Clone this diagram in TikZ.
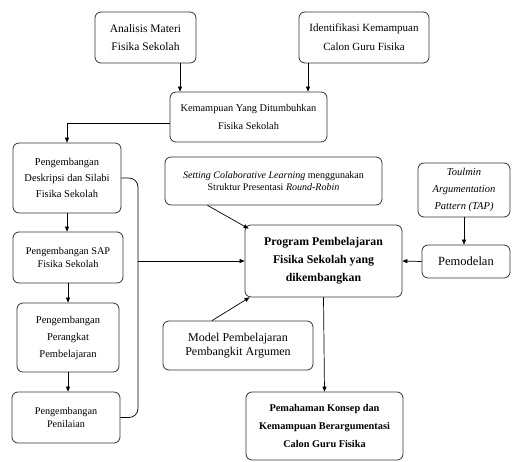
\documentclass[tikz,border=0pt]{standalone}
\usepackage{fontspec}
\setmainfont{Liberation Serif}
\usetikzlibrary{arrows.meta}
\tikzset{
  box/.style={draw=black!80,line width=0.8pt,rounded corners=6pt,fill=white,align=center,inner sep=1pt,text=black},
  arr/.style={draw=black,line width=0.7pt,-{Triangle[length=5pt,width=4pt]}},
  link/.style={draw=black,line width=0.7pt}
}
\begin{document}
\begin{tikzpicture}[x=1pt,y=-1pt]
\path[use as bounding box] (0,0) rectangle (513,461);
% top row
\node[box,minimum width=101pt,minimum height=51pt,font=\fontsize{11.5}{18}\selectfont] (analisis) at (145.5,37.5) {Analisis Materi\\Fisika Sekolah};
\node[box,minimum width=130pt,minimum height=51pt,font=\fontsize{11}{19}\selectfont] (identifikasi) at (364,37.5) {Identifikasi Kemampuan\\Calon Guru Fisika};
\node[box,minimum width=157pt,minimum height=50pt,font=\fontsize{10.3}{18}\selectfont] (kemampuan) at (248.5,117) {Kemampuan Yang Ditumbuhkan\\Fisika Sekolah};
% left column
\node[box,minimum width=108pt,minimum height=70pt,font=\fontsize{10.5}{16}\selectfont] (desk) at (67,178) {Pengembangan\\Deskripsi dan Silabi\\Fisika Sekolah};
\node[box,minimum width=110pt,minimum height=51pt,font=\fontsize{10.3}{13}\selectfont] (sap) at (68,257.5) {Pengembangan SAP\\Fisika Sekolah};
\node[box,minimum width=102pt,minimum height=69pt,font=\fontsize{10.5}{17}\selectfont] (perangkat) at (68,337.5) {Pengembangan\\Perangkat\\Pembelajaran};
\node[box,minimum width=108pt,minimum height=51pt,font=\fontsize{10.2}{13}\selectfont] (penilaian) at (66,417.5) {Pengembangan\\Penilaian};
% centre and right
\node[box,minimum width=217pt,minimum height=48pt,font=\fontsize{10}{12.5}\selectfont] (setting) at (273.5,181) {\textit{Setting Colaborative Learning} menggunakan\\Struktur Presentasi \textit{Round-Robin}};
\node[box,minimum width=92pt,minimum height=54pt,font=\itshape\fontsize{10.5}{17}\selectfont] (toulmin) at (464,190) {Toulmin\\Argumentation\\Pattern (TAP)};
\node[box,minimum width=88pt,minimum height=33pt,font=\fontsize{12.5}{15}\selectfont] (pemodelan) at (466,261.5) {Pemodelan};
\node[box,minimum width=157pt,minimum height=72pt,font=\bfseries\fontsize{11.8}{18}\selectfont] (program) at (323.5,261) {Program Pembelajaran\\Fisika Sekolah yang\\dikembangkan};
\node[box,minimum width=150pt,minimum height=49pt,font=\fontsize{12}{13.5}\selectfont] (model) at (238,345.5) {Model Pembelajaran\\Pembangkit Argumen};
\node[box,minimum width=157pt,minimum height=68pt,font=\bfseries\fontsize{10.3}{18}\selectfont] (hasil) at (324.5,426) {Pemahaman Konsep dan\\Kemampuan Berargumentasi\\Calon Guru Fisika};
% connectors
\coordinate (brk) at (138,261);
\draw[arr] ([xshift=34.5pt]analisis.south) -- ([xshift=34.5pt]analisis.south |- kemampuan.north);
\draw[arr] ([xshift=-56pt]identifikasi.south) -- ([xshift=-56pt]identifikasi.south |- kemampuan.north);
\draw[arr] ([yshift=-6pt]kemampuan.west) -| (desk.north);
\draw[arr] (desk.south) -- (desk.south |- sap.north);
\draw[arr] (sap.south) -- (sap.south |- perangkat.north);
\draw[arr] (perangkat.south) -- (perangkat.south |- penilaian.north);
\draw[link,rounded corners=9pt] (desk.east) -| (brk) |- (penilaian.east);
\draw[arr] (brk) -- (program.west);
\draw[arr] ([xshift=-66pt]setting.south) -- ([xshift=4pt,yshift=-4pt]program.north west);
\draw[arr] ([xshift=-26pt]model.north) -- ([xshift=5pt]program.south west);
\draw[arr] (toulmin.south) -- (toulmin.south |- pemodelan.north);
\draw[arr] (pemodelan.west) -- (program.east);
\draw[arr] (program.south) -- (hasil.north);
\end{tikzpicture}
\end{document}
